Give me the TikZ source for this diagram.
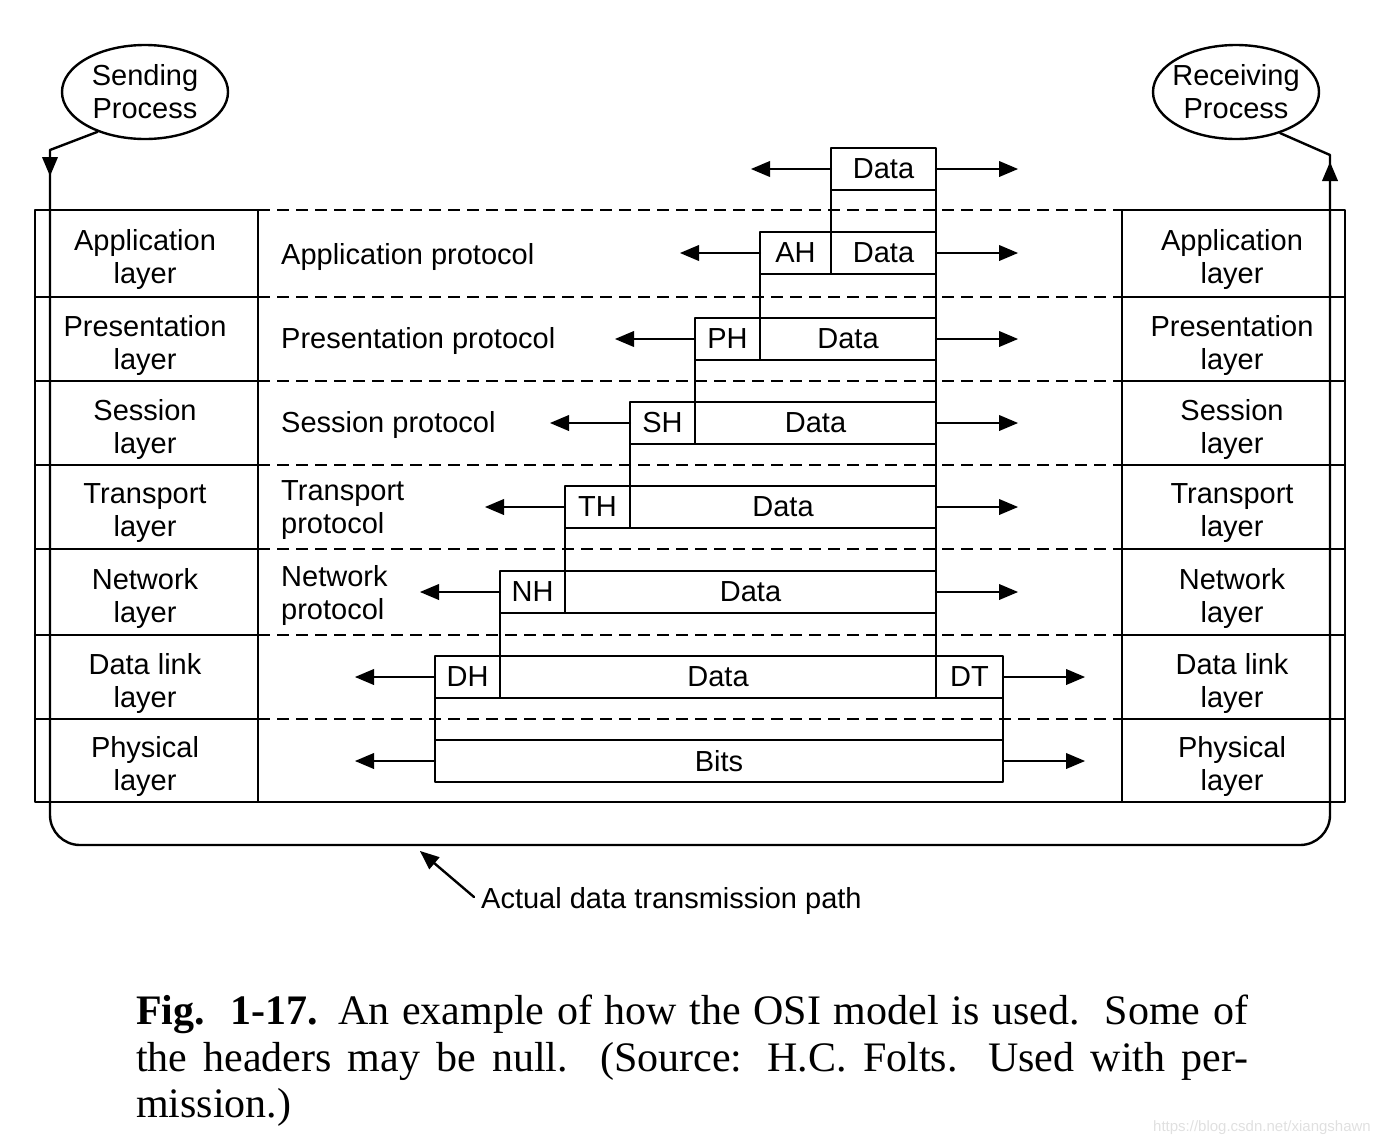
\documentclass[tikz,border=0pt]{standalone}
\usepackage{fontspec}
\setmainfont{Liberation Serif}
\setsansfont{Liberation Sans}
\usetikzlibrary{arrows,shapes.geometric}

\begin{document}
\begin{tikzpicture}[line cap=round,line join=round,>=triangle 45,x=0.5pt,y=-0.5pt,line width=1.2pt,
  lbl/.style={font=\sffamily\fontsize{14.5}{16.5}\selectfont,align=center,inner sep=0pt},
  proto/.style={lbl,align=left,anchor=west},
  pdu/.style={draw,lbl,minimum height=21pt,outer sep=0pt},
  hdr/.style={pdu,minimum width=32.5pt},
  proc/.style={draw,ellipse,lbl,inner xsep=-3pt,minimum width=83pt,minimum height=47pt},
  dashline/.style={dash pattern=on 6pt off 3.5pt,line cap=butt}]
\useasboundingbox (0,0) rectangle (1380,1146);

% layer columns and the dashed protocol lines
\draw (35,210) rectangle (258,802);
\draw (1122,210) rectangle (1345,802);
\foreach \y in {297,381,465,549,635,719}{
  \draw (35,\y) -- (258,\y);
  \draw (1122,\y) -- (1345,\y);
  \draw [dashline] (258,\y) -- (1122,\y);
}
\draw [dashline] (258,210) -- (1122,210);
\draw (258,802) -- (1122,802);

\foreach \t/\y/\n in {Application/259/app,Presentation/345/pre,Session/429/ses,Transport/513/tra,Network/598/net,Data link/683/dll,Physical/766/phy}{
  \node [lbl] (s\n) at (145,\y) {\t\\layer};
  \node [lbl] (r\n) at (1232,\y) {\t\\layer};
}

\node [proto] (papp) at (280,257) {Application protocol};
\node [proto] (ppre) at (280,341) {Presentation protocol};
\node [proto] (pses) at (280,425) {Session protocol};
\node [proto] (ptra) at (280,510) {Transport\\protocol};
\node [proto] (pnet) at (280,595) {Network\\protocol};

% data units, one row per layer
\node [pdu,minimum width=52.5pt] (d7) at (883.5,169) {Data};
\node [hdr,minimum width=35.5pt] (ah) at (795.5,253) {AH};
\node [pdu,minimum width=52.5pt] (d6) at (883.5,253) {Data};
\node [hdr] (ph) at (727.5,339) {PH};
\node [pdu,minimum width=88pt] (d5) at (848,339) {Data};
\node [hdr] (sh) at (662.5,423) {SH};
\node [pdu,minimum width=120.5pt] (d4) at (815.5,423) {Data};
\node [hdr] (th) at (597.5,507) {TH};
\node [pdu,minimum width=153pt] (d3) at (783,507) {Data};
\node [hdr] (nh) at (532.5,592) {NH};
\node [pdu,minimum width=185.5pt] (d2) at (750.5,592) {Data};
\node [hdr] (dh) at (467.5,677) {DH};
\node [pdu,minimum width=218pt] (d1) at (718,677) {Data};
\node [hdr,minimum width=33.5pt] (dt) at (969.5,677) {DT};
\node [pdu,minimum width=284pt] (bits) at (719,761) {Bits};

\draw (d7.south west) -- (d6.north west);
\draw (d7.south east) -- (d6.north east);
\draw (ah.south west) -- (d5.north west);
\draw (d6.south east) -- (d5.north east);
\draw (ph.south west) -- (d4.north west);
\draw (d5.south east) -- (d4.north east);
\draw (sh.south west) -- (d3.north west);
\draw (d4.south east) -- (d3.north east);
\draw (th.south west) -- (d2.north west);
\draw (d3.south east) -- (d2.north east);
\draw (nh.south west) -- (d1.north west);
\draw (d2.south east) -- (d1.north east);
\draw (dh.south west) -- (bits.north west);
\draw (dt.south east) -- (bits.north east);

\foreach \l/\r in {d7/d7,ah/d6,ph/d5,sh/d4,th/d3,nh/d2,dh/dt,bits/bits}{
  \draw [->] (\l.west) -- ++(-80,0);
  \draw [->] (\r.east) -- ++(82,0);
}

% processes and the real path
\node [proc] (send) at (145,92) {Sending\\Process};
\node [proc] (recv) at (1236,92) {Receiving\\Process};
\draw [->] (send.220) -- (50,150) -- (50,176);
\draw [rounded corners=15pt] (50,170) -- (50,845) -- (1330,845) -- (1330,166);
\draw [->] (1330,190) -- (1330,162);
\draw (1330,166) -- (1330,155) -- (recv.317);

\node [lbl,anchor=west] (actual) at (480,901) {Actual data transmission path};
\coordinate (hit) at (420,851);
\draw [->] ([shift={(-6,-4)}]actual.west) -- (hit);

\node [anchor=north west,inner sep=0pt,align=left,font=\rmfamily\fontsize{21}{23.3}\selectfont] (caption) at (135,994) {\makebox[556pt][s]{\textbf{Fig.\ \ 1-17.} An example of how the OSI model is used.\ \ Some of}\\\makebox[556pt][s]{the headers may be null.\ \ (Source: H.C. Folts. Used with per-}\\mission.)};

\node [anchor=east,inner sep=0pt,font=\sffamily\fontsize{7.5}{9}\selectfont,text=black!12] (wm) at (1372,1128) {https://blog.csdn.net/xiangshawn};
\end{tikzpicture}
\end{document}
